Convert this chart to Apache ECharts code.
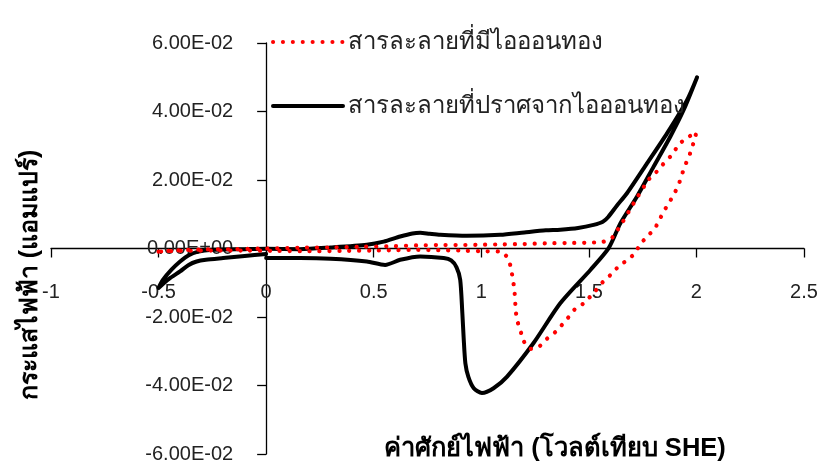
<!DOCTYPE html>
<html>
<head>
<meta charset="utf-8">
<script src="https://cdn.jsdelivr.net/npm/echarts@6/dist/echarts.min.js"></script>
<style>
  html, body { margin: 0; padding: 0; background: #fff; }
  #chart { width: 820px; height: 463px; }
</style>
</head>
<body>
<div id="chart"></div>
<script>
// Series names
const seriesNames = ['สารละลายที่มีไอออนทอง', 'สารละลายที่ปราศจากไอออนทอง'];
const xTitle = 'ค่าศักย์ไฟฟ้า (โวลต์เทียบ SHE)';
const yTitle = 'กระแสไฟฟ้า (แอมแปร์)';

// Red dotted series: with gold ions  [potential V, current A]
const withGoldX = [-0.5, -0.4, -0.3, -0.15, 0, 0.15, 0.3, 0.45, 0.6, 0.7, 0.8, 0.9, 1.0, 1.1, 1.2, 1.3, 1.4, 1.5, 1.56, 1.6, 1.62, 1.654, 1.709, 1.778, 1.809, 1.856, 1.887, 1.918, 1.953, 2.0,
  1.987, 1.972, 1.953, 1.936, 1.921, 1.901, 1.876, 1.851, 1.828, 1.806, 1.774, 1.74, 1.712, 1.678, 1.64, 1.608, 1.569, 1.522, 1.476, 1.437, 1.406, 1.375, 1.344, 1.306, 1.267, 1.228,
  1.197, 1.181, 1.166, 1.16, 1.155, 1.147, 1.138, 1.127, 1.105, 1.088, 1.0, 0.9, 0.8, 0.7, 0.6, 0.5, 0.35, 0.2, 0.05, -0.1, -0.25, -0.4, -0.5];
const withGoldY = [-0.0009, -0.0005, -0.0003, -0.0002, 0.0, 0.0002, 0.0003, 0.0005, 0.0007, 0.0009, 0.001, 0.001, 0.0011, 0.0012, 0.0013, 0.0015, 0.0016, 0.0017, 0.0019, 0.0026, 0.0042, 0.0074, 0.0133, 0.0201, 0.022, 0.0254, 0.0274, 0.0303, 0.0322, 0.0339,
  0.031, 0.028, 0.0251, 0.0222, 0.0193, 0.0165, 0.0137, 0.0111, 0.0084, 0.0058, 0.0037, 0.0013, -0.0015, -0.0034, -0.0051, -0.0073, -0.0095, -0.013, -0.016, -0.0176, -0.02, -0.0223, -0.0244, -0.0263, -0.0287, -0.0293,
  -0.027, -0.0237, -0.0208, -0.0179, -0.013, -0.0089, -0.006, -0.0031, -0.0015, -0.0009, -0.0008, -0.0006, -0.0005, -0.0004, -0.0005, -0.0006, -0.0007, -0.0008, -0.0007, -0.0006, -0.0006, -0.0007, -0.0009];

// Black solid series: without gold ions
const noGoldX = [0, -0.1, -0.2, -0.28, -0.323, -0.36, -0.4, -0.45, -0.5,
  -0.48, -0.44, -0.4, -0.36, -0.32, -0.25, -0.1, 0, 0.158, 0.3, 0.468, 0.546, 0.623, 0.68, 0.716, 0.76, 0.809, 0.933, 1.088, 1.2, 1.3, 1.367, 1.45, 1.522, 1.565, 1.59, 1.63, 1.678, 1.771, 1.864, 1.957, 2.003,
  1.941, 1.879, 1.801, 1.724, 1.647, 1.592, 1.508, 1.367, 1.243, 1.12, 1.057, 1.003, 0.965, 0.94, 0.926, 0.918, 0.912, 0.902, 0.885, 0.86, 0.825, 0.716, 0.623, 0.553, 0.468, 0.3, 0.158, 0];
const noGoldY = [-0.0016, -0.0022, -0.0028, -0.0033, -0.0038, -0.0048, -0.0067, -0.0088, -0.0115,
  -0.0092, -0.0062, -0.0038, -0.002, -0.001, -0.0004, -0.0002, -0.0001, -0.0002, 0.0003, 0.0011, 0.002, 0.0035, 0.0044, 0.0046, 0.0043, 0.004, 0.0037, 0.004, 0.0047, 0.0053, 0.0055, 0.006, 0.0069, 0.0078, 0.0092, 0.0125, 0.0162, 0.0249, 0.0337, 0.0434, 0.050,
  0.0405, 0.0327, 0.0239, 0.0152, 0.0074, 0.0001, -0.0062, -0.016, -0.0276, -0.0374, -0.0408, -0.0422, -0.0408, -0.0375, -0.0335, -0.026, -0.0189, -0.0091, -0.0055, -0.0035, -0.0028, -0.0023, -0.0033, -0.0048, -0.0038, -0.003, -0.0028, -0.0028];

// Axis settings
const xMin = -1, xMax = 2.5, xStep = 0.5;
const yMin = -0.06, yMax = 0.06, yStep = 0.02;

function pairs(xs, ys) { return xs.map((x, i) => [x, ys[i]]); }
function sci(v) {
  if (Math.abs(v) < 1e-12) v = 0;
  const s = v.toExponential(2).toUpperCase();
  const [m, e] = s.split('E');
  const sign = e[0] === '-' ? '-' : '+';
  const digits = e.replace(/[+-]/, '').padStart(2, '0');
  return m + 'E' + sign + digits;
}

const W = 820, H = 463;
const G = { left: 51, right: 16, top: 43, bottom: 9 };
const gw = W - G.left - G.right, gh = H - G.top - G.bottom;
// axes cross at zero: shift each axis to the other's zero position
const yAxisOffset = -gw * (0 - xMin) / (xMax - xMin);
const xAxisOffset = -gh * (0 - yMin) / (yMax - yMin);

const chart = echarts.init(document.getElementById('chart'), null, { renderer: 'canvas' });
const numFont = '"Liberation Sans", Arial, sans-serif';
const thaiFont = '"Liberation Sans", Tahoma, sans-serif';

chart.setOption({
  animation: false,
  backgroundColor: '#ffffff',
  grid: { left: G.left, right: G.right, top: G.top, bottom: G.bottom, containLabel: false, outerBoundsMode: 'none' },
  legend: {
    orient: 'vertical',
    left: 266,
    top: 25,
    itemWidth: 70,
    itemHeight: 14,
    itemGap: 40,
    itemStyle: { opacity: 0 },
    lineStyle: { width: 4 },
    textStyle: { fontFamily: thaiFont, fontSize: 24, color: '#222', lineHeight: 24 },
    data: seriesNames
  },
  xAxis: {
    type: 'value',
    min: xMin, max: xMax, interval: xStep,
    offset: xAxisOffset,
    axisLine: { onZero: false, lineStyle: { color: '#000', width: 1.3 } },
    axisTick: { show: true, inside: false, length: 9, lineStyle: { color: '#000', width: 1.3 } },
    axisLabel: { margin: 34, fontFamily: numFont, fontSize: 20, color: '#222', showMinLabel: true, showMaxLabel: true },
    splitLine: { show: false }
  },
  yAxis: {
    type: 'value',
    min: yMin, max: yMax, interval: yStep,
    offset: yAxisOffset,
    axisLine: { show: true, onZero: false, lineStyle: { color: '#000', width: 1.3 } },
    axisTick: { show: true, inside: false, length: 9, lineStyle: { color: '#000', width: 1.3 } },
    axisLabel: { margin: 33, fontFamily: numFont, fontSize: 20, color: '#222', formatter: sci, showMinLabel: true, showMaxLabel: true },
    splitLine: { show: false }
  },
  series: [
    {
      name: seriesNames[0],
      type: 'line',
      data: pairs(withGoldX, withGoldY),
      symbol: 'none',
      smooth: 0.25,
      z: 3,
      lineStyle: { color: '#ff0000', width: 4.2, type: [0.1, 9.8], cap: 'round' },
      itemStyle: { color: '#ff0000' }
    },
    {
      name: seriesNames[1],
      type: 'line',
      data: pairs(noGoldX, noGoldY),
      symbol: 'none',
      smooth: 0.25,
      z: 2,
      lineStyle: { color: '#000000', width: 4, cap: 'round', join: 'round' },
      itemStyle: { color: '#000000' }
    }
  ],
  graphic: [
    {
      type: 'text',
      x: 555,
      y: 449,
      style: { text: xTitle, font: 'bold 25.5px ' + thaiFont, fill: '#000', align: 'center', verticalAlign: 'middle' }
    },
    {
      type: 'text',
      x: 30,
      y: 275,
      rotation: Math.PI / 2,
      style: { text: yTitle, font: 'bold 25px ' + thaiFont, fill: '#000', align: 'center', verticalAlign: 'middle' }
    }
  ]
});
</script>
</body>
</html>
